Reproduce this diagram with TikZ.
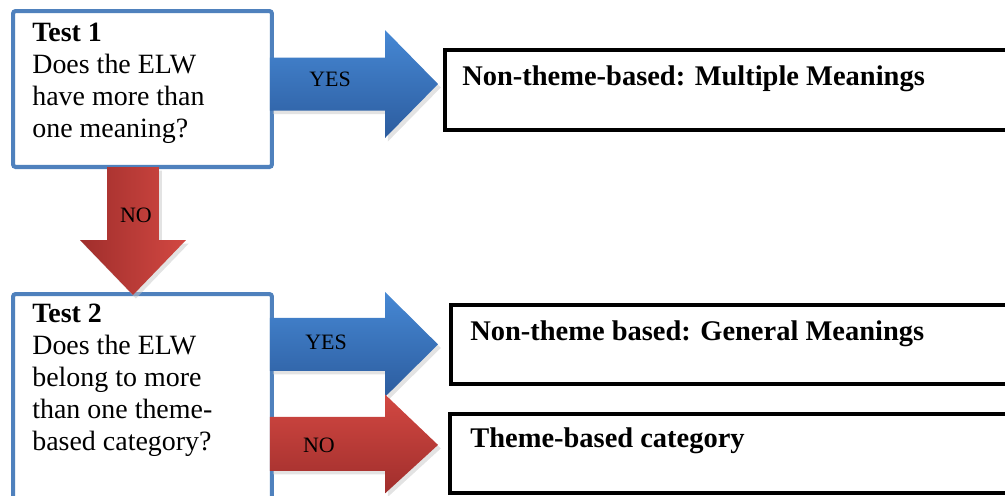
\documentclass[tikz,border=0pt]{standalone}
\usepackage{fontspec}
\setmainfont{Liberation Serif}
\usetikzlibrary{calc,shadows,positioning}

\definecolor{boxblue}{RGB}{79,129,189}
\definecolor{blueTop}{RGB}{70,136,212}
\definecolor{blueBot}{RGB}{44,92,158}
\definecolor{redTop}{RGB}{210,72,66}
\definecolor{redBot}{RGB}{160,46,44}

\tikzset{
  testbox/.style={draw=boxblue, line width=2.3pt, rounded corners=1.5pt, fill=white,
    anchor=north west, minimum width=5.18cm, inner sep=0pt},
  resultbox/.style={draw=black, line width=2.2pt, fill=white,
    anchor=north west, minimum width=12cm, inner sep=0pt},
  testtext/.style={anchor=north west, align=left, inner sep=0pt,
    font=\fontsize{15.9}{18.2}\selectfont},
  resulttext/.style={anchor=base west, inner sep=0pt,
    font=\fontsize{16.2}{19}\selectfont\bfseries},
  arrowlabel/.style={inner sep=0pt, font=\fontsize{12.5}{14}\selectfont},
  boxshadow/.style={drop shadow={shadow xshift=1.6pt, shadow yshift=-2pt, fill=black!22}},
  yesarrow/.style={boxshadow, top color=blueTop, bottom color=blueBot},
  noarrow/.style={boxshadow, top color=redTop, bottom color=redBot},
  downarrow/.style={boxshadow, left color=redBot, right color=redTop}
}

% block arrow pointing right: style, tail, tip, shaft half width, head half width
\newcommand{\blockright}[5]{%
  \path[#1] let \p1=(#2), \p2=(#3) in
    (\x1,\y1+#4) -- (\x2-1.06cm,\y1+#4) -- (\x2-1.06cm,\y1+#5) -- (\x2,\y2)
    -- (\x2-1.06cm,\y1-#5) -- (\x2-1.06cm,\y1-#4) -- (\x1,\y1-#4) -- cycle;}
% block arrow pointing down
\newcommand{\blockdown}[5]{%
  \path[#1] let \p1=(#2), \p2=(#3) in
    (\x1-#4,\y1) -- (\x1-#4,\y2+1.1cm) -- (\x1-#5,\y2+1.1cm) -- (\x2,\y2)
    -- (\x1+#5,\y2+1.1cm) -- (\x1+#4,\y2+1.1cm) -- (\x1+#4,\y1) -- cycle;}

\begin{document}
\begin{tikzpicture}[x=0.02cm,y=-0.02cm]
  \useasboundingbox (0,0) rectangle (1005,495);
  \clip (0,0) rectangle (1005,495);

  % test boxes
  \node[testbox, minimum height=3.12cm] (t1) at (11,9) {};
  \node[testbox, minimum height=4.6cm] (t2) at (11,292) {};

  % result boxes
  \node[resultbox, minimum height=1.6cm] (m1) at (443,48) {};
  \node[resultbox, minimum height=1.58cm] (m2) at (449,303) {};
  \node[resultbox, minimum height=1.58cm] (m3) at (448,412) {};

  \node[testtext] (t1 text) at ($(t1.north west)+(21,14)$)
    {\textbf{Test 1}\\Does the ELW\\have more than\\one meaning?};
  \node[testtext] (t2 text) at ($(t2.north west)+(21,12)$)
    {\textbf{Test 2}\\Does the ELW\\belong to more\\than one theme-\\based category?};

  \node[resulttext] (m1 text) at ($(m1.north west)+(19,37)$) {Non-theme-based: Multiple Meanings};
  \node[resulttext] (m2 text) at ($(m2.north west)+(21,37)$) {Non-theme based: General Meanings};
  \node[resulttext] (m3 text) at ($(m3.north west)+(22,35)$) {Theme-based category};

  % arrow ends
  \coordinate (yes1 tail) at ($(t1.east)+(-4,-5)$);
  \coordinate (yes1 tip) at ($(m1.west |- yes1 tail)+(-5,0)$);
  \coordinate (no1 tail) at ($(t1.south)+(-9.5,-2)$);
  \coordinate (no1 tip) at ($(t2.north -| no1 tail)+(0,3)$);
  \coordinate (yes2 tail) at ($(t1.east |- m2.west)+(-4,0)$);
  \coordinate (yes2 tip) at ($(m2.west)+(-11,0)$);
  \coordinate (no2 tail) at ($(t1.east |- m3.west)+(-4,-9.5)$);
  \coordinate (no2 tip) at ($(m3.west)+(-10,-8.5)$);

  \blockright{yesarrow}{yes1 tail}{yes1 tip}{0.53cm}{1.08cm}
  \blockdown{downarrow}{no1 tail}{no1 tip}{0.52cm}{1.06cm}
  \blockright{yesarrow}{yes2 tail}{yes2 tip}{0.53cm}{1.05cm}
  \blockright{noarrow}{no2 tail}{no2 tip}{0.54cm}{0.99cm}

  \node[arrowlabel] (yes1 label) at (330,79) {YES};
  \node[arrowlabel] (no1 label) at (136,215) {NO};
  \node[arrowlabel] (yes2 label) at (326,342.5) {YES};
  \node[arrowlabel] (no2 label) at (319,445) {NO};
\end{tikzpicture}
\end{document}
